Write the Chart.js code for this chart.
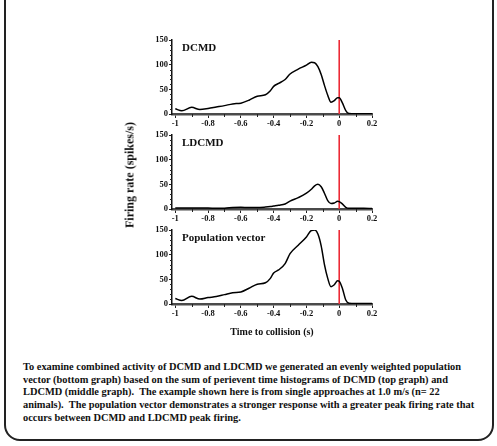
<!DOCTYPE html>
<html>
<head>
<meta charset="utf-8">
<script src="https://cdn.jsdelivr.net/npm/chart.js@4.4.1/dist/chart.umd.min.js"></script>
<style>
  html, body { margin:0; padding:0; background:#fff; }
  body { width:497px; height:446px; position:relative; overflow:hidden; font-family:"Liberation Serif","Times New Roman",serif; font-weight:bold; color:#111; }
  .frame { position:absolute; left:4px; top:-30px; width:490px; height:471px; border:2px solid #222; border-radius:16px; box-sizing:border-box; }
  canvas { position:absolute; left:130px; }
  .ytitle { position:absolute; left:130px; top:175px; transform:translate(-50%,-50%) rotate(-90deg); font-size:12px; white-space:nowrap; }
  .xtitle { position:absolute; left:272px; top:331px; transform:translate(-50%,-50%); font-size:10px; white-space:nowrap; }
  .caption { position:absolute; left:23px; top:361px; font-size:10.4px; line-height:12.7px; white-space:nowrap; }
</style>
</head>
<body>
<div class="frame"></div>
<canvas id="c1" width="260" height="100" style="top:30px"></canvas>
<canvas id="c2" width="260" height="100" style="top:125px"></canvas>
<canvas id="c3" width="260" height="100" style="top:220px"></canvas>
<div class="ytitle">Firing rate (spikes/s)</div>
<div class="xtitle">Time to collision (s)</div>
<div class="caption">To examine combined activity of DCMD and LDCMD we generated an evenly weighted population<br>vector (bottom graph) based on the sum of perievent time histograms of DCMD (top graph) and<br>LDCMD (middle graph).&nbsp; The example shown here is from single approaches at 1.0 m/s (n= 22<br>animals).&nbsp; The population vector demonstrates a stronger response with a greater peak firing rate that<br>occurs between DCMD and LDCMD peak firing.</div>
<script>
// ---- data ----
const panelNames = ["DCMD", "LDCMD", "Population vector"];
const timeToCollision = [-1, -0.96, -0.9, -0.85, -0.8, -0.75, -0.7, -0.65, -0.6, -0.55, -0.5, -0.45, -0.42, -0.4, -0.37, -0.33, -0.3, -0.25, -0.2, -0.17, -0.15, -0.13, -0.11, -0.09, -0.07, -0.05, -0.03, -0.01, 0, 0.02, 0.04, 0.06, 0.1, 0.15, 0.2];
const dcmdRate = [10.5, 6.5, 13.5, 9, 11, 14, 17, 20.5, 22, 28, 36, 39, 47, 56, 62, 70, 81, 91, 99, 105, 104, 96, 80, 58, 38, 24, 27, 33, 33, 22, 7, 1, 0.5, 0.5, 0.5];
const ldcmdRate = [2, 2, 2, 2, 2, 1.5, 1.5, 3, 3.5, 3, 3, 4, 5, 6, 7.5, 10, 16, 23, 32, 40, 47, 50, 45, 32, 17, 11, 12, 15.5, 15, 10, 3.5, 1.5, 1.5, 1.5, 1];
const populationRate = [11, 7, 15.5, 10, 13, 15, 19, 23, 24.5, 32, 40, 43, 52, 63, 69, 82, 102, 119, 136, 149, 150, 142, 118, 80, 52, 35, 39, 47, 46, 31, 8, 1.5, 1, 1, 1];
const xTickValues = [-1, -0.8, -0.6, -0.4, -0.2, 0, 0.2];
const xMinorTickValues = [-0.9, -0.7, -0.5, -0.3, -0.1, 0.1];
const yTickValues = [0, 50, 100, 150];
const yMinorTickValues = [10, 20, 30, 40, 60, 70, 80, 90, 110, 120, 130, 140];
const collisionLineX = [0, 0];
const collisionLineY = [0, 150];
const yMax = 150;
const xMin = -1.02, xMax = 0.2;

const FONT = '"Liberation Serif", "Times New Roman", serif';

const extras = {
  id: 'extras',
  afterDraw(chart, args, opts) {
    const { ctx, chartArea } = chart;
    const xs = chart.scales.x, ys = chart.scales.y;
    ctx.save();
    ctx.strokeStyle = '#222';
    ctx.lineWidth = 1;
    ctx.beginPath();
    yMinorTickValues.forEach(v => {
      const py = Math.round(ys.getPixelForValue(v)) + 0.5;
      ctx.moveTo(chartArea.left - 2, py);
      ctx.lineTo(chartArea.left, py);
    });
    xMinorTickValues.forEach(v => {
      const px = Math.round(xs.getPixelForValue(v)) + 0.5;
      ctx.moveTo(px, chartArea.bottom);
      ctx.lineTo(px, chartArea.bottom + 3);
    });
    ctx.stroke();
    ctx.font = 'bold 11px ' + FONT;
    ctx.fillStyle = '#111';
    ctx.textBaseline = 'middle';
    ctx.textAlign = 'left';
    ctx.fillText(opts.text, chartArea.left + 10, chartArea.top + 8);
    ctx.restore();
  }
};

function makeChart(id, rates, name) {
  const pts = timeToCollision.map((t, i) => ({ x: t, y: rates[i] }));
  const red = collisionLineX.map((t, i) => ({ x: t, y: collisionLineY[i] }));
  return new Chart(document.getElementById(id), {
    type: 'line',
    data: {
      datasets: [
        { data: red, borderColor: '#ec2a35', borderWidth: 1.6, pointRadius: 0, fill: false, tension: 0, order: 1 },
        { data: pts, borderColor: '#000', borderWidth: 1.5, pointRadius: 0, fill: false, cubicInterpolationMode: 'monotone', order: 0 }
      ]
    },
    options: {
      responsive: false,
      animation: false,
      events: [],
      layout: { padding: { top: 10, left: 0, right: 18, bottom: 0 } },
      plugins: { legend: { display: false }, tooltip: { enabled: false }, extras: { text: name } },
      scales: {
        x: {
          type: 'linear', min: xMin, max: xMax,
          afterFit: s => { s.height = 16; },
          afterBuildTicks: s => { s.ticks = xTickValues.map(v => ({ value: v })); },
          border: { display: true, color: '#4a4a4a', width: 2.5 },
          grid: { display: true, drawOnChartArea: false, drawTicks: true, tickLength: 4, tickColor: '#222', tickWidth: 1 },
          ticks: { autoSkip: false, maxRotation: 0, padding: 1, color: '#111', font: { family: FONT, size: 8.5, weight: 'bold' },
                   callback: v => String(Math.round(v * 10) / 10) }
        },
        y: {
          type: 'linear', min: 0, max: yMax,
          afterFit: s => { s.width = 42; },
          afterBuildTicks: s => { s.ticks = yTickValues.map(v => ({ value: v })); },
          border: { display: true, color: '#111', width: 1.5 },
          grid: { display: true, drawOnChartArea: false, drawTicks: true, tickLength: 3, tickColor: '#222', tickWidth: 1 },
          ticks: { autoSkip: false, padding: 1, color: '#111', font: { family: FONT, size: 8.5, weight: 'bold' } }
        }
      }
    },
    plugins: [extras]
  });
}

makeChart('c1', dcmdRate, panelNames[0]);
makeChart('c2', ldcmdRate, panelNames[1]);
makeChart('c3', populationRate, panelNames[2]);
</script>
</body>
</html>
